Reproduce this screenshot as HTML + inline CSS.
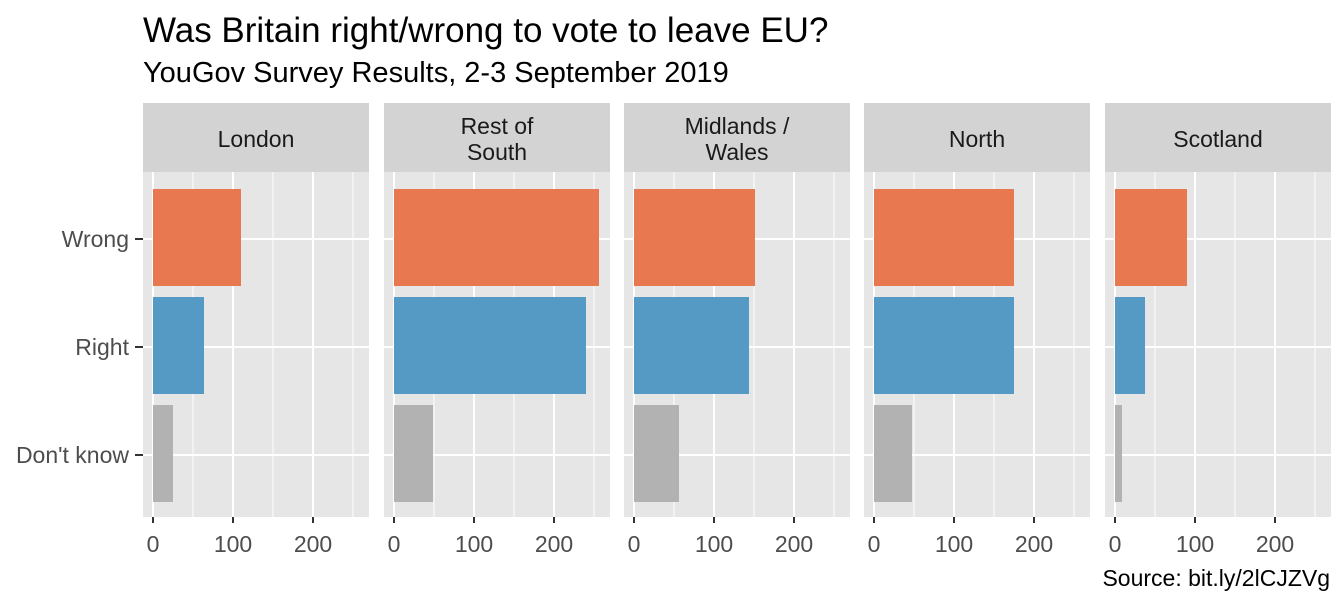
<!DOCTYPE html>
<html><head><meta charset="utf-8"><style>body{margin:0;background:#fff}</style></head><body>
<svg width="1344" height="604" xmlns="http://www.w3.org/2000/svg" font-family="Liberation Sans, sans-serif">
<rect width="1344" height="604" fill="#fff"/>
<text x="143" y="42" font-size="35" fill="#000">Was Britain right/wrong to vote to leave EU?</text>
<text x="143" y="82" font-size="29" fill="#000">YouGov Survey Results, 2-3 September 2019</text>
<g font-size="23" fill="#4D4D4D" text-anchor="end">
<text x="129" y="247">Wrong</text><text x="129" y="355">Right</text><text x="129" y="463">Don't know</text>
</g>
<g stroke="#333" stroke-width="2"><line x1="135" y1="239" x2="143" y2="239"/><line x1="135" y1="347" x2="143" y2="347"/><line x1="135" y1="455" x2="143" y2="455"/></g>

<defs>
<g id="base">
<rect x="143" y="103" width="226" height="69" fill="#D3D3D3"/>
<rect x="143" y="172" width="226" height="345" fill="#E6E6E6"/>
<g stroke="#fff" stroke-width="1"><line x1="193" y1="172" x2="193" y2="517"/><line x1="273" y1="172" x2="273" y2="517"/><line x1="353" y1="172" x2="353" y2="517"/></g>
<g stroke="#fff" stroke-width="2"><line x1="153" y1="172" x2="153" y2="517"/><line x1="233" y1="172" x2="233" y2="517"/><line x1="313" y1="172" x2="313" y2="517"/>
<line x1="143" y1="239" x2="369" y2="239"/><line x1="143" y1="347" x2="369" y2="347"/><line x1="143" y1="455" x2="369" y2="455"/></g>
<g stroke="#333" stroke-width="2"><line x1="153" y1="517" x2="153" y2="523"/><line x1="233" y1="517" x2="233" y2="523"/><line x1="313" y1="517" x2="313" y2="523"/></g>
<g font-size="23" fill="#4D4D4D" text-anchor="middle"><text x="153" y="552">0</text><text x="233" y="552">100</text><text x="313" y="552">200</text></g>
</g>
</defs>

<g font-size="23" fill="#1A1A1A" text-anchor="middle">
<g>
<use href="#base"/>
<rect x="153" y="189" width="88" height="97" fill="#E8784F"/>
<rect x="153" y="297" width="51" height="97" fill="#5599C5"/>
<rect x="153" y="405" width="20" height="97" fill="#B2B2B2"/>
<text x="256" y="147">London</text>
</g>
<g transform="translate(241,0)">
<use href="#base"/>
<rect x="153" y="189" width="205" height="97" fill="#E8784F"/>
<rect x="153" y="297" width="192" height="97" fill="#5599C5"/>
<rect x="153" y="405" width="39" height="97" fill="#B2B2B2"/>
<text x="256" y="134">Rest of</text><text x="256" y="160">South</text>
</g>
<g transform="translate(481,0)">
<use href="#base"/>
<rect x="153" y="189" width="121" height="97" fill="#E8784F"/>
<rect x="153" y="297" width="115" height="97" fill="#5599C5"/>
<rect x="153" y="405" width="45" height="97" fill="#B2B2B2"/>
<text x="256" y="134">Midlands /</text><text x="256" y="160">Wales</text>
</g>
<g transform="translate(721,0)">
<use href="#base"/>
<rect x="153" y="189" width="140" height="97" fill="#E8784F"/>
<rect x="153" y="297" width="140" height="97" fill="#5599C5"/>
<rect x="153" y="405" width="38" height="97" fill="#B2B2B2"/>
<text x="256" y="147">North</text>
</g>
<g transform="translate(962,0)">
<use href="#base"/>
<rect x="153" y="189" width="72" height="97" fill="#E8784F"/>
<rect x="153" y="297" width="30" height="97" fill="#5599C5"/>
<rect x="153" y="405" width="7" height="97" fill="#B2B2B2"/>
<text x="256" y="147">Scotland</text>
</g>
</g>
<text x="1330" y="586" font-size="23" text-anchor="end" fill="#000">Source: bit.ly/2lCJZVg</text>
</svg>
</body></html>
